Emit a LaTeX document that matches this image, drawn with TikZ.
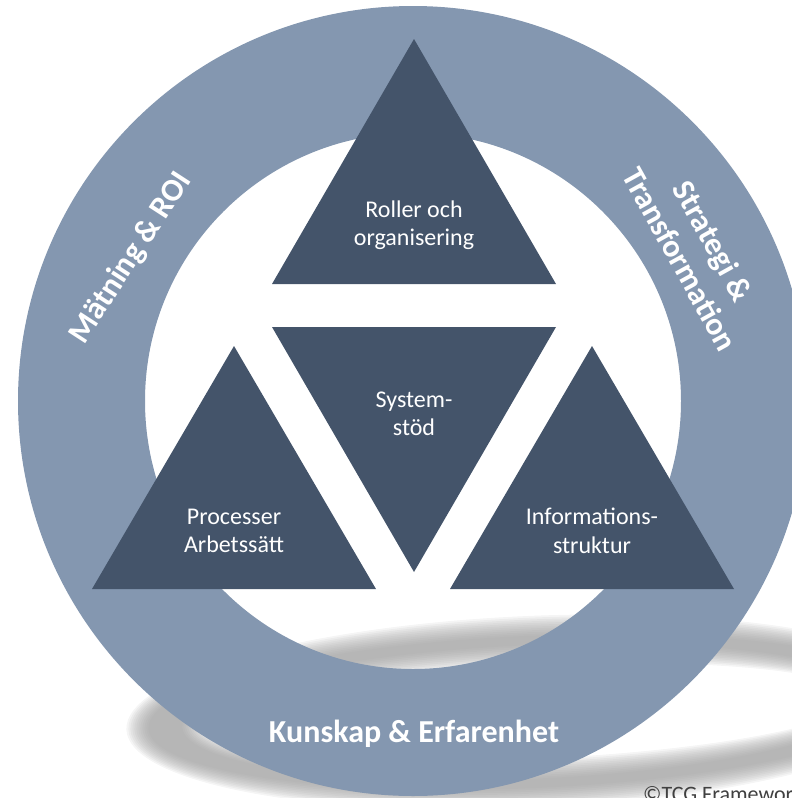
\documentclass[tikz,border=0pt]{standalone}
\usepackage{fontspec}
\setmainfont{Carlito}
\usetikzlibrary{positioning}
\definecolor{ringblue}{HTML}{8497B0}
\definecolor{triblue}{HTML}{44546A}
\definecolor{shadowgray}{HTML}{9A9A9A}
\definecolor{copygray}{HTML}{404040}
\tikzset{%
  % Specifications for style of shapes and texts:
           base/.style = {text=white, align=center, inner sep=0pt},
       trilabel/.style = {base, font=\fontsize{24}{28.5}\selectfont},
      ringlabel/.style = {base, font=\fontsize{32}{38}\selectfont\bfseries},
            tri/.style = {fill=triblue},
     ringshape/.style = {fill=ringblue, even odd rule},
  groundshadow/.style = {fill=shadowgray, opacity=0.1, even odd rule},
}

\begin{document}
\begin{tikzpicture}[x=1pt, y=-1pt]
  \useasboundingbox (0,0) rectangle (792,798);
  \clip (0,0) rectangle (792,798);

  % Specification of the soft shadow on the ground
  \foreach \k in {0,...,11}
    \fill[groundshadow, rotate around={2.5:(530,712)}]
      (530,712) ellipse [x radius={404-2*\k}, y radius={96-1.8*\k}]
      (530,712) ellipse [x radius={326+2*\k}, y radius={47+1.8*\k}];

  % Specification of the ring
  \coordinate (centre) at (413,401);
  \fill[ringshape] (centre) circle [radius=395] (centre) circle [radius=268];

  % Specification of the four triangles
  \fill[tri] (414,39)  -- (556,284) -- (272,284) -- cycle;
  \fill[tri] (272,327) -- (556,327) -- (414,572) -- cycle;
  \fill[tri] (234,346) -- (376,589) -- (92,589)  -- cycle;
  \fill[tri] (592,346) -- (734,589) -- (450,589) -- cycle;

  % Texts in the triangles
  \node (onRoller)  [trilabel] at (414,225) {Roller och\\organisering};
  \node (onSystem)  [trilabel] at (414,414) {System-\\stöd};
  \node (onProcess) [trilabel] at (234,531) {Processer\\Arbetssätt};
  \node (onInfo)    [trilabel] at (592,531) {Informations-\\struktur};

  % Texts on the ring
  \node (onMatning)  [ringlabel, rotate=57]  at (131,258) {Mätning \& ROI};
  \node (onStrategi) [ringlabel, rotate=-61] at (697,250) {Strategi \&\\Transformation};
  \node (onKunskap)  [ringlabel, anchor=base] at (414,742) {Kunskap \& Erfarenhet};

  \node (onCopy) [anchor=base west, inner sep=0pt, text=copygray,
                  font=\fontsize{22}{26}\selectfont] at (643,801) {©TCG Framework};
\end{tikzpicture}
\end{document}
